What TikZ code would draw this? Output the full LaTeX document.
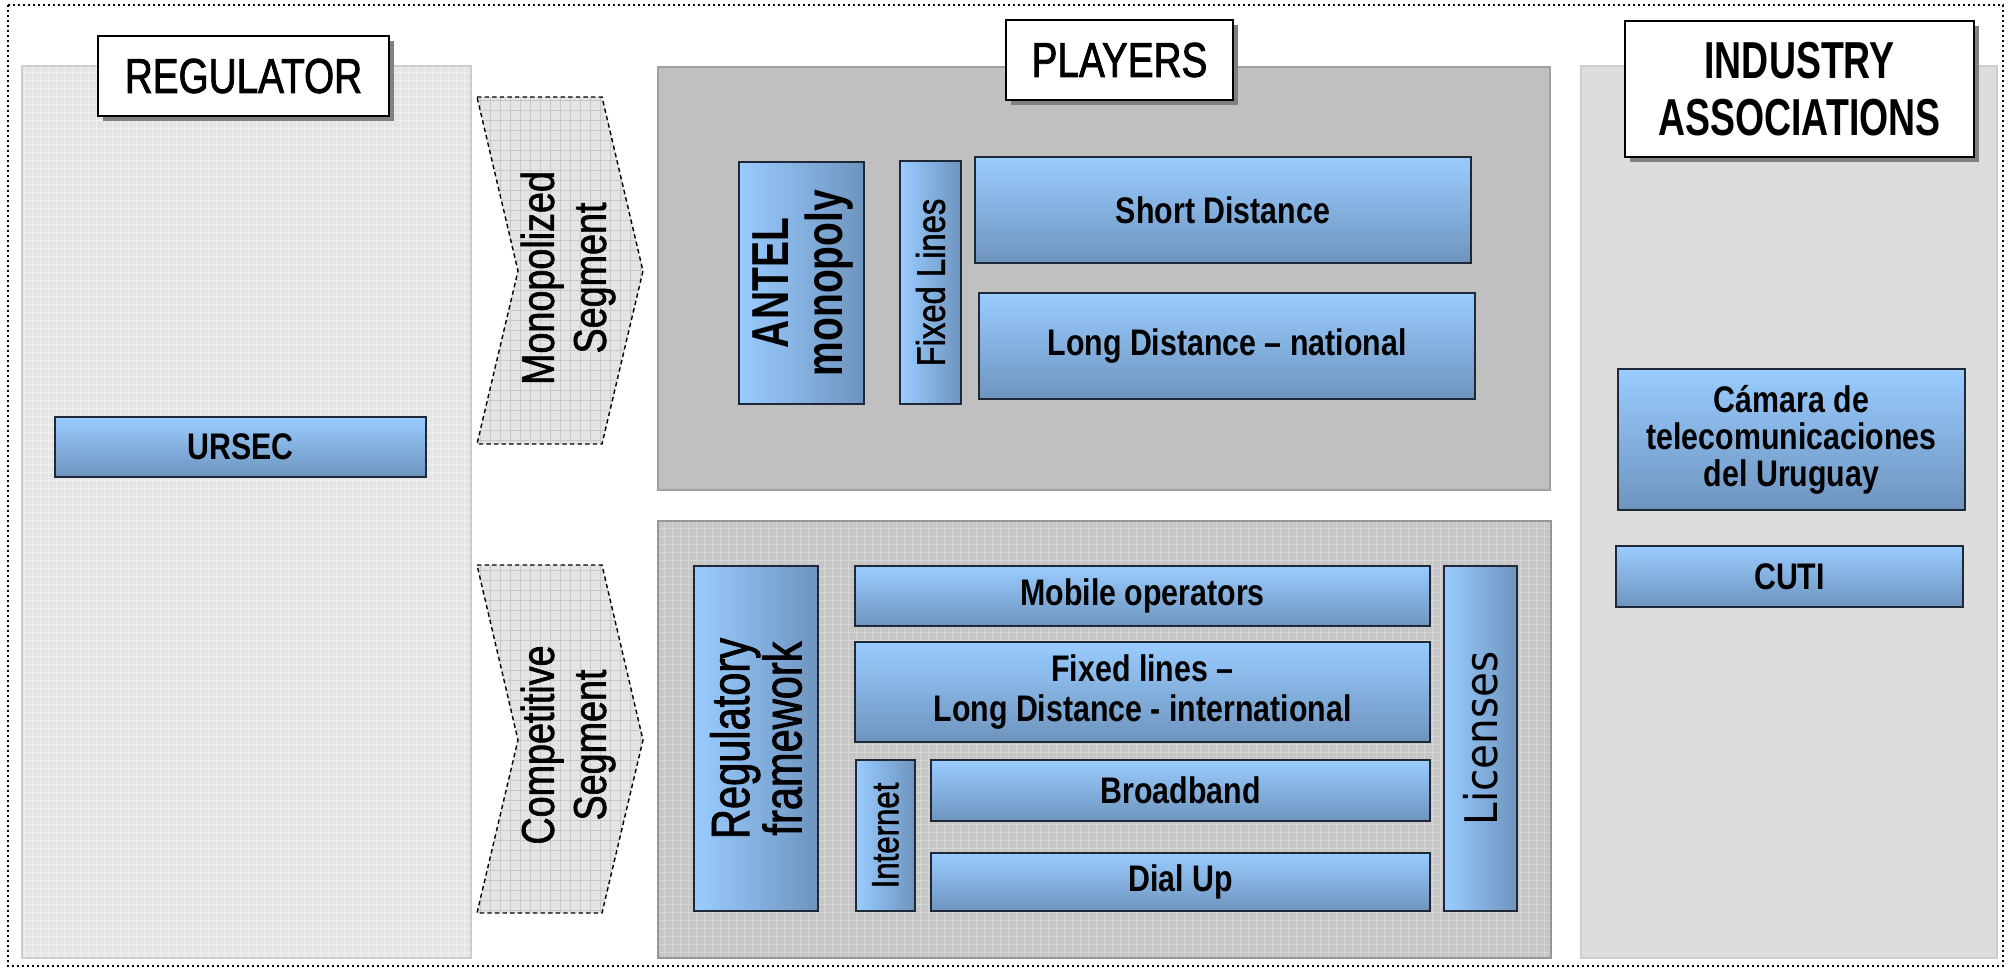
\documentclass[tikz,border=0pt]{standalone}
\usepackage{fontspec}
\setmainfont{Liberation Sans}[FakeStretch=0.82]
\newfontfamily\medfont{Liberation Sans}[FakeStretch=0.82, FakeBold=1.4]
\newfontfamily\regfont{Liberation Sans}[FakeStretch=0.77, FakeBold=1.4]
\newfontfamily\headfont{Liberation Sans}[FakeStretch=0.79, FakeBold=1.6]
\newfontfamily\indfont{Liberation Sans}[FakeStretch=0.72]
\newfontfamily\antfont{Liberation Sans}[FakeStretch=0.75]
\newfontfamily\licfont{DejaVu Sans}[FakeStretch=0.9]
\usetikzlibrary{shadows}
\definecolor{blueL}{RGB}{153,204,255}
\definecolor{blueD}{RGB}{110,148,190}
\definecolor{bdr}{RGB}{30,40,55}
\definecolor{regfill}{RGB}{229,229,229}
\definecolor{regtexc}{RGB}{240,240,240}
\definecolor{regline}{RGB}{205,205,205}
\definecolor{ptop}{RGB}{192,192,192}
\definecolor{ptopline}{RGB}{160,160,160}
\definecolor{pbot}{RGB}{198,198,198}
\definecolor{pbottex}{RGB}{214,214,214}
\definecolor{pbotline}{RGB}{150,150,150}
\definecolor{indfill}{RGB}{221,221,221}
\definecolor{indline}{RGB}{205,205,205}
\definecolor{chevfill}{RGB}{228,228,228}
\definecolor{chevgrid}{RGB}{200,200,200}
\definecolor{shgray}{RGB}{128,128,128}
\tikzset{
  hbox/.style={draw=bdr, line width=0.7pt, top color=blueL, bottom color=blueD, inner sep=0pt, align=center, font=\fontsize{18.5}{18.5}\selectfont\bfseries},
  vbox/.style={draw=bdr, line width=0.7pt, left color=blueL, right color=blueD, inner sep=0pt},
  vtext/.style={rotate=90, align=center, inner sep=0pt},
  head/.style={draw=black, line width=1pt, fill=white, inner sep=0pt, align=center,
    font=\headfont\fontsize{24.5}{28.5}\selectfont,
    drop shadow={shadow xshift=2.5pt, shadow yshift=-2.5pt, fill=shgray, opacity=1}},
  chevtext/.style={rotate=90, align=center, inner sep=0pt, font=\medfont\fontsize{23}{26}\selectfont},
  chevborder/.style={draw=black, line width=0.7pt, dash pattern=on 2.2pt off 1.6pt},
  outerdot/.style={draw=black, line width=1.2pt, dash pattern=on 1.2pt off 1.3pt},
  tex/.style={line width=0.4pt, xstep=4pt, ystep=4pt}
}
\begin{document}
\begin{tikzpicture}[x=0.5pt,y=-0.5pt]
\useasboundingbox (0,0) rectangle (2011,970);
% outer dotted frame
\draw[outerdot] (8,5) rectangle (2003,966);

% Regulator panel
\begin{scope}
  \clip (22,66) rectangle (471,958);
  \fill[regfill] (22,66) rectangle (471,958);
  \draw[tex, regtexc] (22,958) grid (471,66);
\end{scope}
\draw[regline, line width=0.8pt] (22,66) rectangle (471,958);

% Players top panel
\fill[ptop] (658,67) rectangle (1550,490);
\draw[ptopline, line width=0.8pt] (658,67) rectangle (1550,490);

% Players bottom panel
\begin{scope}
  \clip (658,521) rectangle (1551,958);
  \fill[pbot] (658,521) rectangle (1551,958);
  \draw[tex, pbottex] (658,958) grid (1551,521);
\end{scope}
\draw[pbotline, line width=0.8pt] (658,521) rectangle (1551,958);

% Industry panel
\fill[indfill] (1581,66) rectangle (1997,958);
\draw[indline, line width=0.8pt] (1581,66) rectangle (1997,958);

% Chevrons
\begin{scope}
  \clip (477,97) -- (602,97) -- (643,271) -- (602,444) -- (477,444) -- (518,271) -- cycle;
  \fill[chevfill] (470,90) rectangle (650,450);
  \draw[chevgrid, line width=0.4pt, xstep=5pt, ystep=5pt] (470,450) grid (650,90);
\end{scope}
\draw[chevborder] (477,97) -- (602,97) -- (643,271) -- (602,444) -- (477,444) -- (518,271) -- cycle;
\begin{scope}
  \clip (477,565) -- (602,565) -- (643,740) -- (602,913) -- (477,913) -- (518,740) -- cycle;
  \fill[chevfill] (470,560) rectangle (650,920);
  \draw[chevgrid, line width=0.4pt, xstep=5pt, ystep=5pt] (470,920) grid (650,560);
\end{scope}
\draw[chevborder] (477,565) -- (602,565) -- (643,740) -- (602,913) -- (477,913) -- (518,740) -- cycle;
\node[chevtext] (monoT) at (568,278) {Monopolized\\Segment};
\node[chevtext] (compT) at (568,745) {Competitive\\Segment};

% Header labels
\node[head, minimum width=145.5pt, minimum height=40pt] (hreg) at (243.5,76) {REGULATOR};
\node[head, minimum width=113.5pt, minimum height=40pt] (hpl) at (1119.5,60) {PLAYERS};
\node[head, minimum width=174.5pt, minimum height=68pt, font=\indfont\fontsize{26}{28.5}\selectfont\bfseries] (hind) at (1799.5,89) {INDUSTRY\\ASSOCIATIONS};

% Regulator
\node[hbox, minimum width=185.5pt, minimum height=30pt] (ursec) at (240.5,447) {URSEC};

% Monopolized segment players
\node[vbox, minimum width=62.5pt, minimum height=121pt] (antel) at (801.5,283) {};
\node[vtext, font=\antfont\fontsize{26}{27}\selectfont\bfseries] (antelT) at (803,283) {ANTEL\\monopoly};
\node[vbox, minimum width=30.5pt, minimum height=121.5pt] (fixed) at (930.5,282.5) {};
\node[vtext, font=\medfont\fontsize{20}{22}\selectfont] (fixedT) at (fixed.center) {Fixed Lines};
\node[hbox, minimum width=248pt, minimum height=53pt] (short) at (1223,210) {Short Distance};
\node[hbox, minimum width=248pt, minimum height=53pt] (longnat) at (1227,346) {Long Distance – national};

% Competitive segment players
\node[vbox, minimum width=62pt, minimum height=172.5pt] (regfw) at (756,738.5) {};
\node[vtext, font=\regfont\fontsize{27}{24}\selectfont] (regfwT) at (regfw.center) {Regulatory\\framework};
\node[hbox, minimum width=287.5pt, minimum height=30pt] (mobile) at (1142.5,596) {Mobile operators};
\node[hbox, minimum width=287.5pt, minimum height=50pt, font=\fontsize{18.5}{20}\selectfont\bfseries] (fixedld) at (1142.5,692) {Fixed lines –\\Long Distance - international};
\node[vbox, minimum width=29.5pt, minimum height=75.5pt] (inet) at (885.5,835.5) {};
\node[vtext, font=\medfont\fontsize{19}{22}\selectfont] (inetT) at (inet.center) {Internet};
\node[hbox, minimum width=249.5pt, minimum height=30.5pt] (bband) at (1180.5,790.5) {Broadband};
\node[hbox, minimum width=249.5pt, minimum height=29pt] (dialup) at (1180.5,882) {Dial Up};
\node[vbox, minimum width=36.5pt, minimum height=172.5pt] (lic) at (1480.5,738.5) {};
\node[vtext, font=\licfont\fontsize{22.5}{24}\selectfont] (licT) at (lic.center) {Licenses};

% Industry associations
\node[hbox, minimum width=173.5pt, minimum height=70.5pt] (camara) at (1791.5,439.5) {Cámara de\\telecomunicaciones\\del Uruguay};
\node[hbox, minimum width=173.5pt, minimum height=30.5pt] (cuti) at (1789.5,576.5) {CUTI};
\end{tikzpicture}
\end{document}
